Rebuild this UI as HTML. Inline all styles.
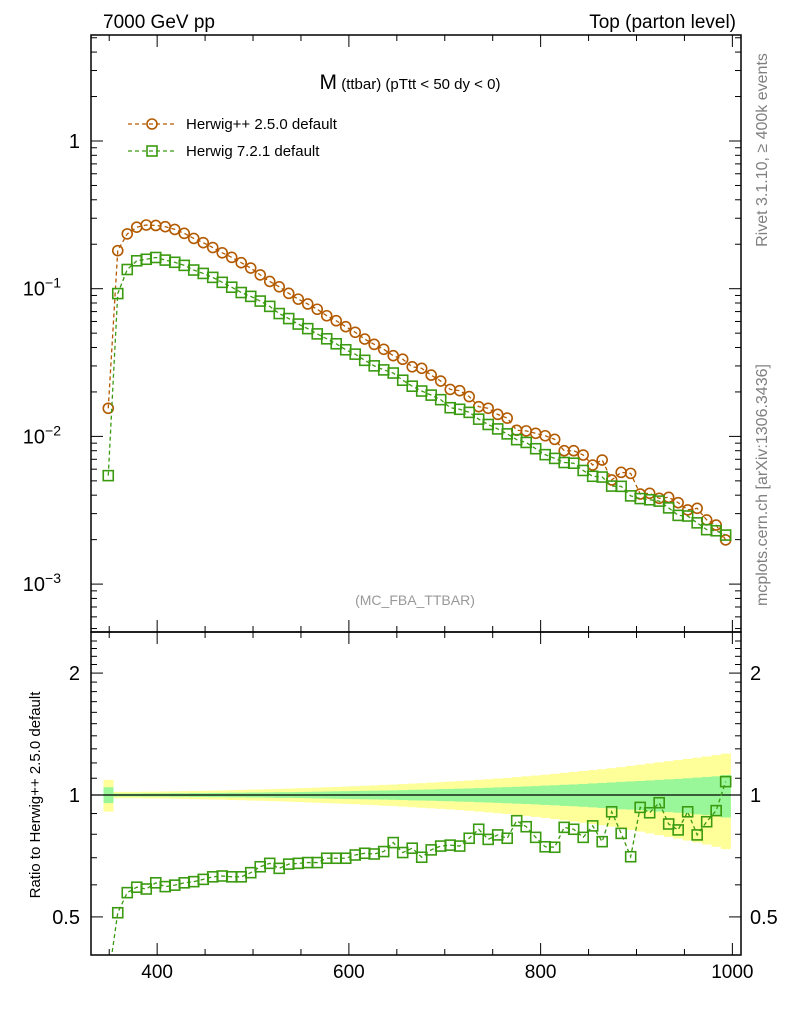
<!DOCTYPE html>
<html><head><meta charset="utf-8"><style>
body{margin:0;background:#fff;}
svg{display:block;font-family:"Liberation Sans",sans-serif;}
</style></head><body>
<svg id="c" width="786" height="1024"></svg>
<script>
const xCenters = [];
for (let i = 0; i < 66; i++) xCenters.push(349 + i * 644 / 65);
const hppValues = [0.0155,0.181,0.235,0.261,0.270,0.268,0.263,0.252,0.237,0.219,0.205,0.190,0.175,0.163,0.150,0.138,0.124,0.112,0.103,0.093,0.085,0.0788,0.0726,0.0656,0.0607,0.0553,0.0507,0.0456,0.0420,0.0389,0.0352,0.0333,0.0296,
0.0289,0.0260,0.0237,0.0208,0.0204,0.0186,0.0159,0.0155,0.0141,0.0133,0.0110,0.0109,0.0105,0.0101,0.00955,0.0080,0.0080,0.00748,0.0064,0.00692,0.00507,0.00571,0.00562,0.00407,0.00412,0.00381,0.00387,0.00356,0.00318,0.00326,0.00272,0.00251,0.00199];
const ratioValues = [0.35,0.512,0.574,0.592,0.586,0.607,0.594,0.599,0.607,0.611,0.619,0.628,0.631,0.628,0.628,0.643,0.665,0.678,0.659,0.675,0.678,0.681,0.681,0.698,0.698,0.698,0.711,0.718,0.715,0.725,0.763,0.721,0.739,0.702,0.732,0.748,0.752,0.748,0.782,0.823,0.777,0.797,0.782,0.864,0.835,0.786,0.745,0.743,0.832,0.823,0.786,0.839,0.767,0.909,0.804,0.704,0.932,0.904,0.957,0.848,0.820,0.909,0.797,0.859,0.915,1.079];
const greenBand = [0.045,0.008,0.008,0.008,0.009,0.009,0.009,0.01,0.01,0.011,0.011,0.012,0.012,0.013,0.013,0.014,0.014,0.015,0.016,0.016,0.017,0.018,0.019,0.02,0.021,0.022,0.023,0.024,0.025,0.026,0.027,0.028,0.03,0.031,0.032,0.034,0.035,0.037,0.038,0.04,0.042,0.044,0.046,0.048,0.05,0.052,0.055,0.057,0.06,0.062,0.065,0.068,0.071,0.074,0.078,0.08,0.083,0.086,0.09,0.093,0.096,0.1,0.104,0.108,0.112,0.12];
const yellowBand = [0.09,0.018,0.018,0.018,0.019,0.019,0.02,0.021,0.022,0.023,0.024,0.025,0.026,0.028,0.029,0.031,0.032,0.034,0.035,0.037,0.039,0.041,0.043,0.045,0.047,0.049,0.051,0.054,0.056,0.059,0.061,0.064,0.067,0.07,0.073,0.076,0.079,0.082,0.086,0.09,0.094,0.098,0.102,0.107,0.112,0.117,0.122,0.128,0.134,0.14,0.146,0.152,0.158,0.165,0.172,0.18,0.188,0.196,0.204,0.212,0.22,0.228,0.236,0.245,0.255,0.265];
const xTicks = [400,600,800,1000];
const ratioTicks = [0.5,1,2];

const svg = document.getElementById('c');
const NS = 'http://www.w3.org/2000/svg';
function mk(tag, attrs, parent){const e=document.createElementNS(NS,tag);for(const k in attrs)e.setAttribute(k,attrs[k]);(parent||svg).appendChild(e);return e;}
const L=91,R=741,T=35,MB=632,RB=955;
const X0=331,X1=1009;
const xs = v => L + (v - X0) / (X1 - X0) * (R - L);
const ys = v => 141 - Math.log10(v) * 147.7;
const yr = v => 795 - Math.log10(v) * 405;
const HW = 644 / 65 / 2;

const bands = mk('g',{});


xCenters.forEach((c,i)=>{
  const x0=xs(c-HW), x1=xs(c+HW);
  const r=mk('rect',{x:x0,y:yr(1+yellowBand[i]),width:x1-x0+0.5,height:yr(1-yellowBand[i])-yr(1+yellowBand[i]),fill:'#ffff99'},bands);
  
  
});
xCenters.forEach((c,i)=>{
  const x0=xs(c-HW), x1=xs(c+HW);
  const r=mk('rect',{x:x0,y:yr(1+greenBand[i]),width:x1-x0+0.5,height:yr(1-greenBand[i])-yr(1+greenBand[i]),fill:'#99f799'},bands);
  
  
});
const one=mk('line',{x1:L,x2:R,y1:yr(1),y2:yr(1),stroke:'#000','stroke-width':1.3});



const defs=mk('defs',{});
const cp1=mk('clipPath',{id:'cm'},defs);mk('rect',{x:L,y:T,width:R-L,height:MB-T},cp1);
const cp2=mk('clipPath',{id:'cr'},defs);mk('rect',{x:L,y:MB,width:R-L,height:RB-MB},cp2);

const ORG='#b35a00', GRN='#3a9a10';
const h7 = hppValues.map((v,i)=>v*ratioValues[i]);
function series(vals, yfn, color, kind, clip, name){
  const g=mk('g',{'clip-path':'url(#'+clip+')'});
  
  
  const pts=vals.map((v,i)=>xs(xCenters[i])+','+yfn(v)).join(' ');
  mk('polyline',{points:pts,fill:'none',stroke:color,'stroke-width':1.3,'stroke-dasharray':'4,3'},g);
  vals.forEach((v,i)=>{
    const x=xs(xCenters[i]),y=yfn(v);
    let m;
    if(kind==='circle') m=mk('circle',{cx:x,cy:y,r:5,fill:'none',stroke:color,'stroke-width':1.6},g);
    else m=mk('rect',{x:x-5,y:y-5,width:10,height:10,fill:'none',stroke:color,'stroke-width':1.6},g);
    
    
  });
}
series(hppValues, ys, ORG, 'circle', 'cm', 'herwigpp-series');
series(h7, ys, GRN, 'square', 'cm', 'herwig7-series');
series(ratioValues, yr, GRN, 'square', 'cr', 'ratio-series');

const f1=mk('rect',{x:L,y:T,width:R-L,height:MB-T,fill:'none',stroke:'#000','stroke-width':1.5});


const f2=mk('rect',{x:L,y:MB,width:R-L,height:RB-MB,fill:'none',stroke:'#000','stroke-width':1.5});



const ax=mk('g',{stroke:'#000','stroke-width':1});


for(let v=350;v<=1000;v+=50){
  const x=xs(v), maj=xTicks.includes(v), len=maj?12:6;
  [[T,1],[MB,-1],[MB,1],[RB,-1]].forEach(([y0,d])=>mk('line',{x1:x,x2:x,y1:y0,y2:y0+d*len},ax));
}
xTicks.forEach(v=>{
  const t=mk('text',{x:xs(v),y:978,'font-size':19,'text-anchor':'middle'});
  t.textContent=v;
  
  
});
const ay=mk('g',{stroke:'#000','stroke-width':1});


for(let e=-4;e<=0;e++){for(let k=1;k<=9;k++){
  const v=k*Math.pow(10,e), y=ys(v); if(y<T||y>MB) continue;
  const len=k===1?12:6;
  mk('line',{x1:L,x2:L+len,y1:y,y2:y},ay);mk('line',{x1:R,x2:R-len,y1:y,y2:y},ay);
}}
const ylabs=[[1,'1',''],[0.1,'10','−1'],[0.01,'10','−2'],[0.001,'10','−3']];
ylabs.forEach(([v,b,s])=>{
  const t=mk('text',{x:80,y:ys(v)+7,'font-size':20,'text-anchor':'end'});
  
  
  if(s){t.setAttribute('x',61);t.textContent=b;const ts=mk('tspan',{dy:-8,'font-size':14},t);ts.textContent=s;}
  else t.textContent=b;
});
for(let v=0.5;v<=2.5;v+=0.1){
  const y=yr(v); if(y<MB||y>RB) continue;
  const maj=Math.abs(v-0.5)<1e-6||Math.abs(v-1)<1e-6||Math.abs(v-2)<1e-6;
  const len=maj?12:6;
  mk('line',{x1:L,x2:L+len,y1:y,y2:y},ay);mk('line',{x1:R,x2:R-len,y1:y,y2:y},ay);
}
ratioTicks.forEach(v=>{
  const t=mk('text',{x:80,y:yr(v)+7,'font-size':20,'text-anchor':'end'});t.textContent=v;
  
  
  const t2=mk('text',{x:750,y:yr(v)+7,'font-size':20});t2.textContent=v;
  
  
});
</script>
<svg width="786" height="1024" style="position:absolute;left:0;top:0">
<text x="103" y="28" font-size="19" font-family="Liberation Sans, sans-serif">7000 GeV pp</text>
<text x="736" y="28" font-size="19" text-anchor="end" font-family="Liberation Sans, sans-serif">Top (parton level)</text>
<text x="410" y="89" font-size="15" text-anchor="middle" font-family="Liberation Sans, sans-serif"><tspan font-size="21">M</tspan> (ttbar) (pTtt &lt; 50 dy &lt; 0)</text>
<g font-family="Liberation Sans, sans-serif" font-size="15">
<line x1="128" x2="176" y1="124" y2="124" stroke="#b35a00" stroke-width="1.3" stroke-dasharray="4,3"/>
<circle cx="152" cy="124" r="5" fill="none" stroke="#b35a00" stroke-width="1.6"/>
<text x="186" y="129">Herwig++ 2.5.0 default</text>
<line x1="128" x2="176" y1="151" y2="151" stroke="#3a9a10" stroke-width="1.3" stroke-dasharray="4,3"/>
<rect x="147" y="146" width="10" height="10" fill="none" stroke="#3a9a10" stroke-width="1.6"/>
<text x="186" y="156">Herwig 7.2.1 default</text>
</g>
<text x="415" y="605" font-size="14" fill="#999" text-anchor="middle" font-family="Liberation Sans, sans-serif">(MC_FBA_TTBAR)</text>
<text transform="translate(767,150) rotate(-90)" font-size="16" fill="#808080" text-anchor="middle" font-family="Liberation Sans, sans-serif">Rivet 3.1.10, ≥ 400k events</text>
<text transform="translate(767,485) rotate(-90)" font-size="16" fill="#808080" text-anchor="middle" font-family="Liberation Sans, sans-serif">mcplots.cern.ch [arXiv:1306.3436]</text>
<text transform="translate(40,795) rotate(-90)" font-size="15" text-anchor="middle" font-family="Liberation Sans, sans-serif">Ratio to Herwig++ 2.5.0 default</text>
</svg>
</body></html>
